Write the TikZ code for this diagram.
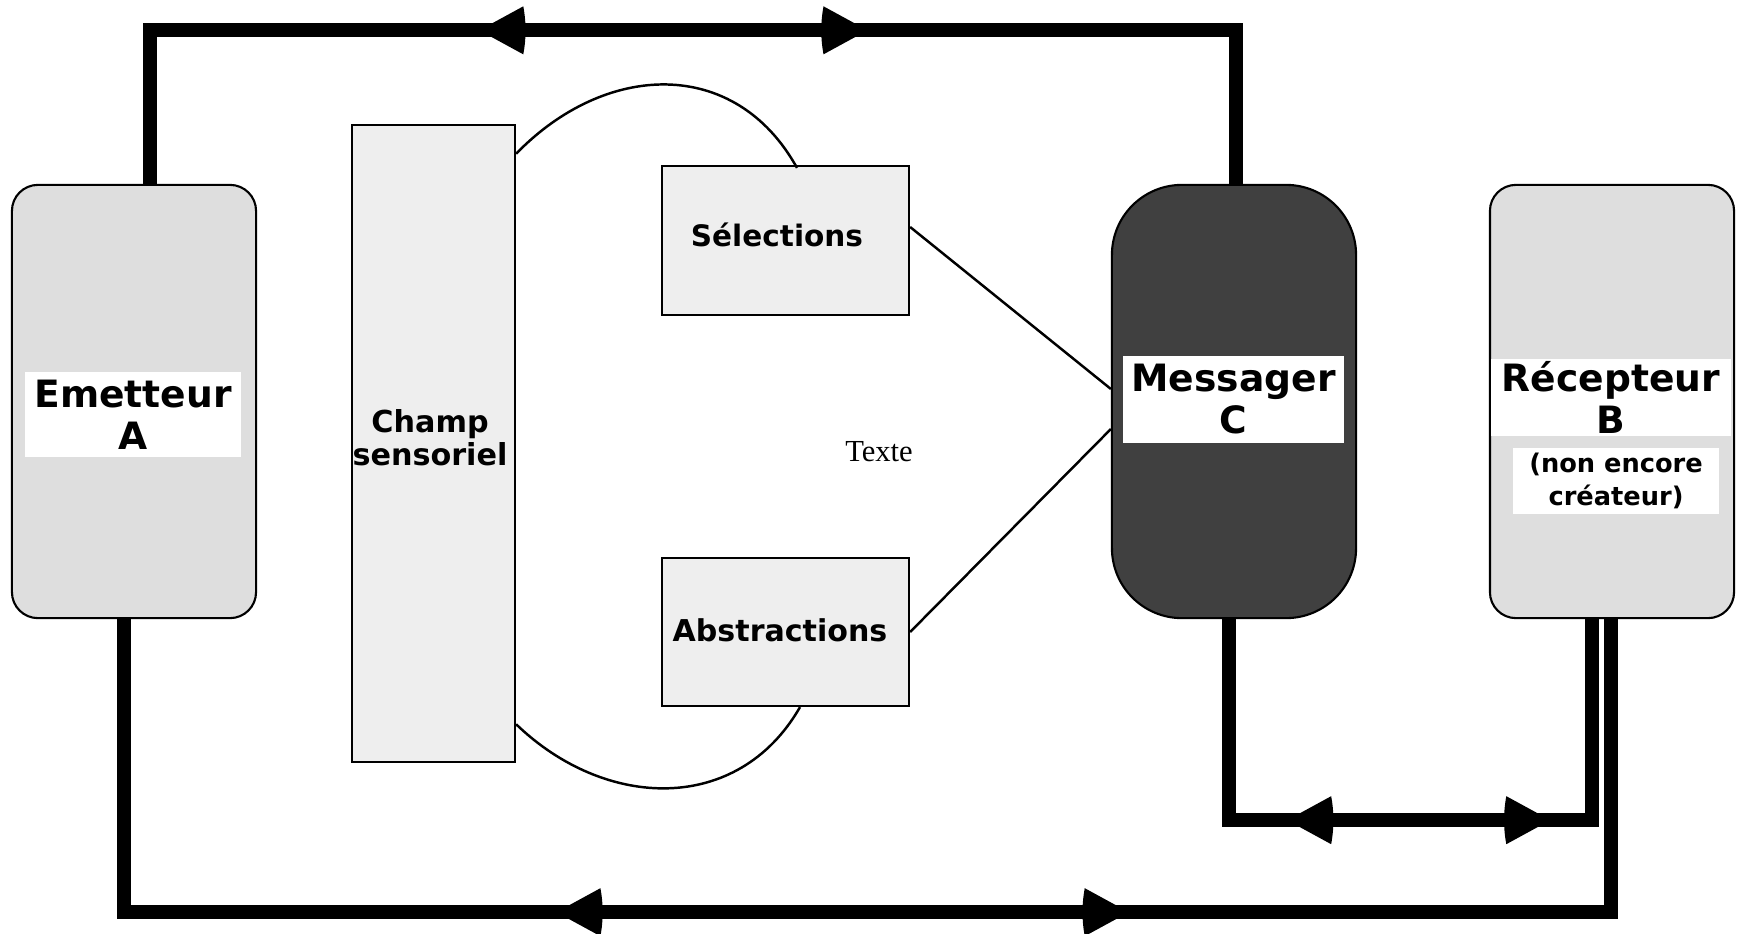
\documentclass[tikz,border=0pt]{standalone}
\usepackage{fontspec}
\setmainfont{Liberation Serif}
\newfontfamily\lbl{DejaVu Sans}
\usetikzlibrary{decorations.markings}

\definecolor{agentgray}{HTML}{DEDEDE}
\definecolor{boxgray}{HTML}{EEEEEE}
\definecolor{msggray}{HTML}{404040}

% arrowheads along a thick loop: tip at the mark, slightly bulging back
\newcommand{\headfwd}{\fill (0,0) -- (-44,24) .. controls (-47,8) and (-47,-8) .. (-44,-24) -- cycle;}
\newcommand{\headbwd}{\fill (0,0) -- (44,24) .. controls (47,8) and (47,-8) .. (44,-24) -- cycle;}

\tikzset{
  agent/.style={draw=black, line width=0.6pt, rounded corners=0.26cm, fill=agentgray,
    minimum width=2.44cm, minimum height=4.33cm, inner sep=0pt},
  field/.style={draw=black, line width=0.6pt, fill=boxgray, inner sep=0pt},
  fieldtext/.style={align=center, inner sep=0pt,
    font=\lbl\bfseries\fontsize{8.6pt}{9.4pt}\selectfont},
  tag/.style={fill=white, inner sep=0pt, align=center,
    font=\lbl\bfseries\fontsize{10.7pt}{11.95pt}\selectfont},
  smalltag/.style={fill=white, inner sep=0pt, align=center,
    font=\lbl\bfseries\fontsize{7.3pt}{9.36pt}\selectfont},
  link/.style={line width=0.14cm, line join=miter},
  thinlink/.style={line width=0.7pt},
  twoheads/.style n args={2}{postaction={decorate}, decoration={markings,
    mark=at position #1 with {\headbwd},
    mark=at position #2 with {\headfwd}}}
}

\begin{document}
\begin{tikzpicture}[x=0.01cm,y=-0.01cm]
\useasboundingbox (0,0) rectangle (1739,933);

% the three agents
\node[agent] (A) at (134,401.5) {};
\node[agent, fill=msggray, rounded corners=0.7cm] (C) at (1234,401.5) {};
\node[agent] (B) at (1612,401.5) {};

% sensory field and its two outcomes
\node[field, minimum width=1.63cm, minimum height=6.37cm] (F) at (433.5,443.5) {};
\node[field, minimum width=2.47cm, minimum height=1.49cm] (S) at (785.5,240.5) {};
\node[field, minimum width=2.47cm, minimum height=1.48cm] (Ab) at (785.5,632) {};
\node[fieldtext] (Ft) at (430,438) {Champ\\sensoriel};
\node[fieldtext, font=\lbl\bfseries\fontsize{8.4pt}{10pt}\selectfont] (St) at (777,235) {Sélections};
\node[fieldtext, font=\lbl\bfseries\fontsize{8.55pt}{10pt}\selectfont] (Abt) at (780,630) {Abstractions};

\node[font=\fontsize{8.7pt}{10pt}\selectfont] (T) at (879,452) {Texte};

% labels on the agents
\node[tag, minimum width=2.16cm, minimum height=0.85cm] (Atag) at (133,414.5) {Emetteur\\A};
\node[tag, minimum width=2.21cm, minimum height=0.87cm] (Ctag) at (1233.5,399.5) {Messager\\C};
\node[tag, minimum width=2.40cm, minimum height=0.77cm] (Btag) at (1611,397.5) {Récepteur\\B};
\node[smalltag, minimum width=2.06cm, minimum height=0.66cm] (Bnote) at (1616,481) {(non encore\\créateur)};

% thick feedback loops
\draw[link, twoheads={4.825cm}{8.705cm}]
  ([xshift=0.16cm]A.north) -- ++(0,-153.5) -| ([xshift=0.02cm]C.north);
\draw[link, twoheads={7.25cm}{12.97cm}]
  ([xshift=-0.10cm]A.south) -- ++(0,293) -| ([xshift=-0.01cm]B.south);
\draw[link, twoheads={2.59cm}{5.22cm}]
  ([xshift=-0.05cm]C.south) -- ++(0,201) -| ([xshift=-0.20cm]B.south);

% curves from the sensory field
\draw[thinlink] ([yshift=-0.30cm]F.north east) .. controls (605,62) and (735,56) .. ([shift={(0.115cm,-0.03cm)}]S.north);
\draw[thinlink] ([yshift=0.39cm]F.south east) .. controls (605,810) and (738,815) .. ([xshift=0.145cm]Ab.south);

% links to the messenger
\draw[thinlink] ([yshift=0.135cm]S.east) -- ([yshift=0.125cm]C.west);
\draw[thinlink] (Ab.east) -- ([yshift=-0.275cm]C.west);
\end{tikzpicture}
\end{document}
